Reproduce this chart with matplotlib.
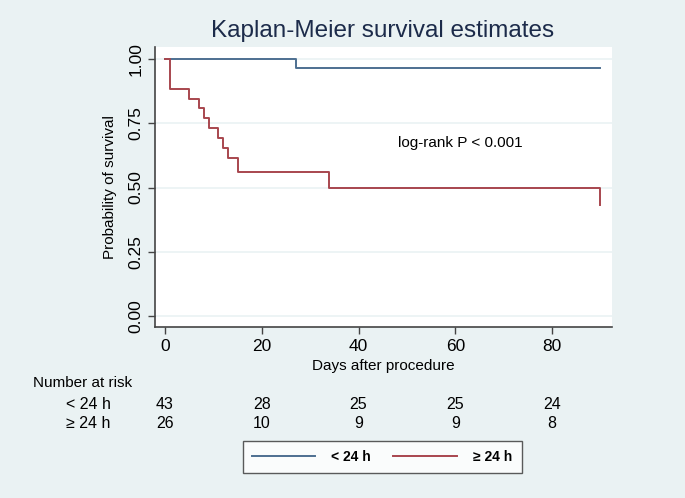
import matplotlib
matplotlib.use('Agg')
import matplotlib.pyplot as plt
import matplotlib.transforms as mtransforms
from matplotlib.lines import Line2D

plt.rcParams['font.family'] = ['Liberation Sans', 'DejaVu Sans']

# ---------------- data ----------------
t_lt24 = [0, 27, 90]
s_lt24 = [1.0, 0.967, 0.967]

t_ge24 = [0, 1, 5, 7, 8, 9, 11, 12, 13, 15, 34, 90]
s_ge24 = [1.0, 0.885, 0.846, 0.808, 0.769, 0.731, 0.692, 0.654, 0.615, 0.56, 0.50, 0.43]

risk_times = [0, 20, 40, 60, 80]
risk_lt24 = [43, 28, 25, 25, 24]
risk_ge24 = [26, 10, 9, 9, 8]
groups = ['< 24 h', '≥ 24 h']

bg = '#eaf2f3'
c_blue = '#4d6f91'
c_red = '#a8464e'

fig = plt.figure(figsize=(6.85, 4.98), dpi=100, facecolor=bg)
W, H = 685, 498
ax = fig.add_axes([155 / W, 1 - 327 / H, (612 - 155) / W, (327 - 47) / H])
ax.set_facecolor('white')

ax.step(t_lt24, s_lt24, where='post', color=c_blue, lw=1.4)
ax.step(t_ge24, s_ge24, where='post', color=c_red, lw=1.4)

ax.set_xlim(-2.07, 92.4)
ax.set_ylim(-0.043, 1.047)
ax.set_xticks(risk_times)
ax.set_yticks([0, 0.25, 0.5, 0.75, 1.0])
ax.set_yticklabels(['0.00', '0.25', '0.50', '0.75', '1.00'], rotation=90, va='center')
ax.tick_params(labelsize=12.5, direction='out', length=5, color='#444444', width=1)
ax.grid(axis='y', color=bg, lw=1.2)
ax.set_axisbelow(True)
for s in ['top', 'right']:
    ax.spines[s].set_visible(False)
for s in ['left', 'bottom']:
    ax.spines[s].set_color('#444444')
    ax.spines[s].set_linewidth(1.2)

ax.set_ylabel('Probability of survival', fontsize=11, labelpad=8)
ax.set_xlabel('Days after procedure', fontsize=11, labelpad=4)
fig.text(383 / W, 1 - 31 / H, 'Kaplan-Meier survival estimates', ha='center', va='center',
         fontsize=17.5, color='#1c2b4a')
ax.text(460 / W, 0.675, 'log-rank P < 0.001', fontsize=11, ha='center', va='center',
        transform=mtransforms.blended_transform_factory(fig.transFigure, ax.transData))

# ---------------- number at risk table ----------------
tr = mtransforms.blended_transform_factory(ax.transData, fig.transFigure)
fig.text(33 / W, 1 - 383 / H, 'Number at risk', fontsize=11, va='center')
for row, (lab, vals) in enumerate(zip(groups, [risk_lt24, risk_ge24])):
    y = 1 - (404 + row * 19.5) / H
    fig.text(66 / W, y, lab, fontsize=11.5, va='center')
    for tx, v in zip(risk_times, vals):
        fig.text(tx, y, str(v), fontsize=11.5, va='center', ha='center', transform=tr)

# ---------------- legend ----------------
handles = [Line2D([], [], color=c_blue, lw=1.4), Line2D([], [], color=c_red, lw=1.4)]
leg = fig.legend(handles, groups, loc='center', bbox_to_anchor=(382 / W, 1 - 457 / H),
                 ncol=2, frameon=True, fancybox=False, edgecolor='#333333',
                 handlelength=4.6, columnspacing=1.6, handletextpad=1.15,
                 prop={'size': 10, 'weight': 'bold'}, borderpad=0.65, borderaxespad=0)
leg.get_frame().set_linewidth(1.0)

fig.savefig('out.png', dpi=100, facecolor=bg)
